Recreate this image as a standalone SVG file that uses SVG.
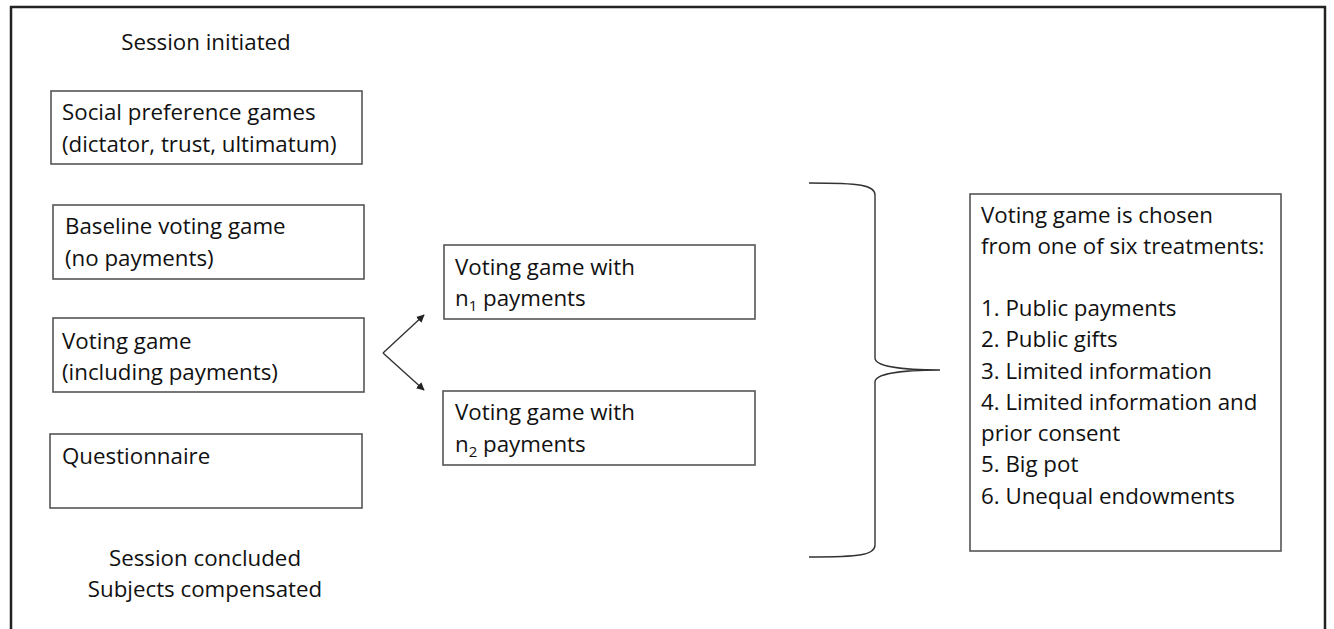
<svg xmlns="http://www.w3.org/2000/svg" width="1334" height="629" viewBox="0 0 1334 629">
<defs>
<style>
text{font-family:"Open Sans","Liberation Sans",sans-serif;font-size:22.3px;fill:#111}
.box{fill:#fff;stroke:#555;stroke-width:1.6}
.ln{fill:none;stroke:#333;stroke-width:1.4}
.mid{text-anchor:middle}
</style>
<marker id="ah" viewBox="0 0 10 10" refX="9" refY="5" markerWidth="8" markerHeight="8" orient="auto" markerUnits="userSpaceOnUse">
<path d="M0,0 L10,5 L0,10 z" fill="#222"/>
</marker>
</defs>
<rect width="1334" height="629" fill="#fff"/>
<path d="M11,640 V7 H1325 V640" fill="none" stroke="#222" stroke-width="2.5"/>
<g id="start"><text class="mid" x="206" y="50">Session initiated</text></g>
<g id="social"><rect class="box" x="51" y="91" width="311" height="73"/><text x="62" y="120">Social preference games</text><text x="62" y="152">(dictator, trust, ultimatum)</text></g>
<g id="baseline"><rect class="box" x="53" y="205" width="311" height="74"/><text x="65" y="234">Baseline voting game</text><text x="65" y="266">(no payments)</text></g>
<g id="voting"><rect class="box" x="53" y="318" width="311" height="74"/><text x="62" y="349">Voting game</text><text x="62" y="380">(including payments)</text></g>
<g id="quest"><rect class="box" x="50" y="434" width="312" height="74"/><text x="62" y="464">Questionnaire</text></g>
<g id="end"><text class="mid" x="205" y="566">Session concluded</text><text class="mid" x="205" y="597">Subjects compensated</text></g>
<g id="n1"><rect class="box" x="444" y="245" width="311" height="74"/><text x="455" y="275">Voting game with</text><text x="455" y="306">n<tspan font-size="15" dy="5">1</tspan><tspan dy="-5"> payments</tspan></text></g>
<g id="n2"><rect class="box" x="443" y="391" width="312" height="74"/><text x="455" y="420">Voting game with</text><text x="455" y="452">n<tspan font-size="15" dy="5">2</tspan><tspan dy="-5"> payments</tspan></text></g>
<g id="treat"><rect class="box" x="970" y="194" width="311" height="357"/>
<text x="981" y="223">Voting game is chosen</text>
<text x="981" y="254">from one of six treatments:</text>
<text x="981" y="316">1. Public payments</text>
<text x="981" y="347">2. Public gifts</text>
<text x="981" y="379">3. Limited information</text>
<text x="981" y="410">4. Limited information and</text>
<text x="981" y="441">prior consent</text>
<text x="981" y="472">5. Big pot</text>
<text x="981" y="504">6. Unequal endowments</text>
</g>
<g id="connectors">
<path class="ln" d="M383,353 L424,315" marker-end="url(#ah)"/>
<path class="ln" d="M383,353 L424,390" marker-end="url(#ah)"/>
<path class="ln" d="M809,183 C860,183 875,185 875,195 V358 C875,366 900,370 940,370 C900,370 875,374 875,382 V545 C875,555 860,557 809,557"/>
</g>
</svg>
